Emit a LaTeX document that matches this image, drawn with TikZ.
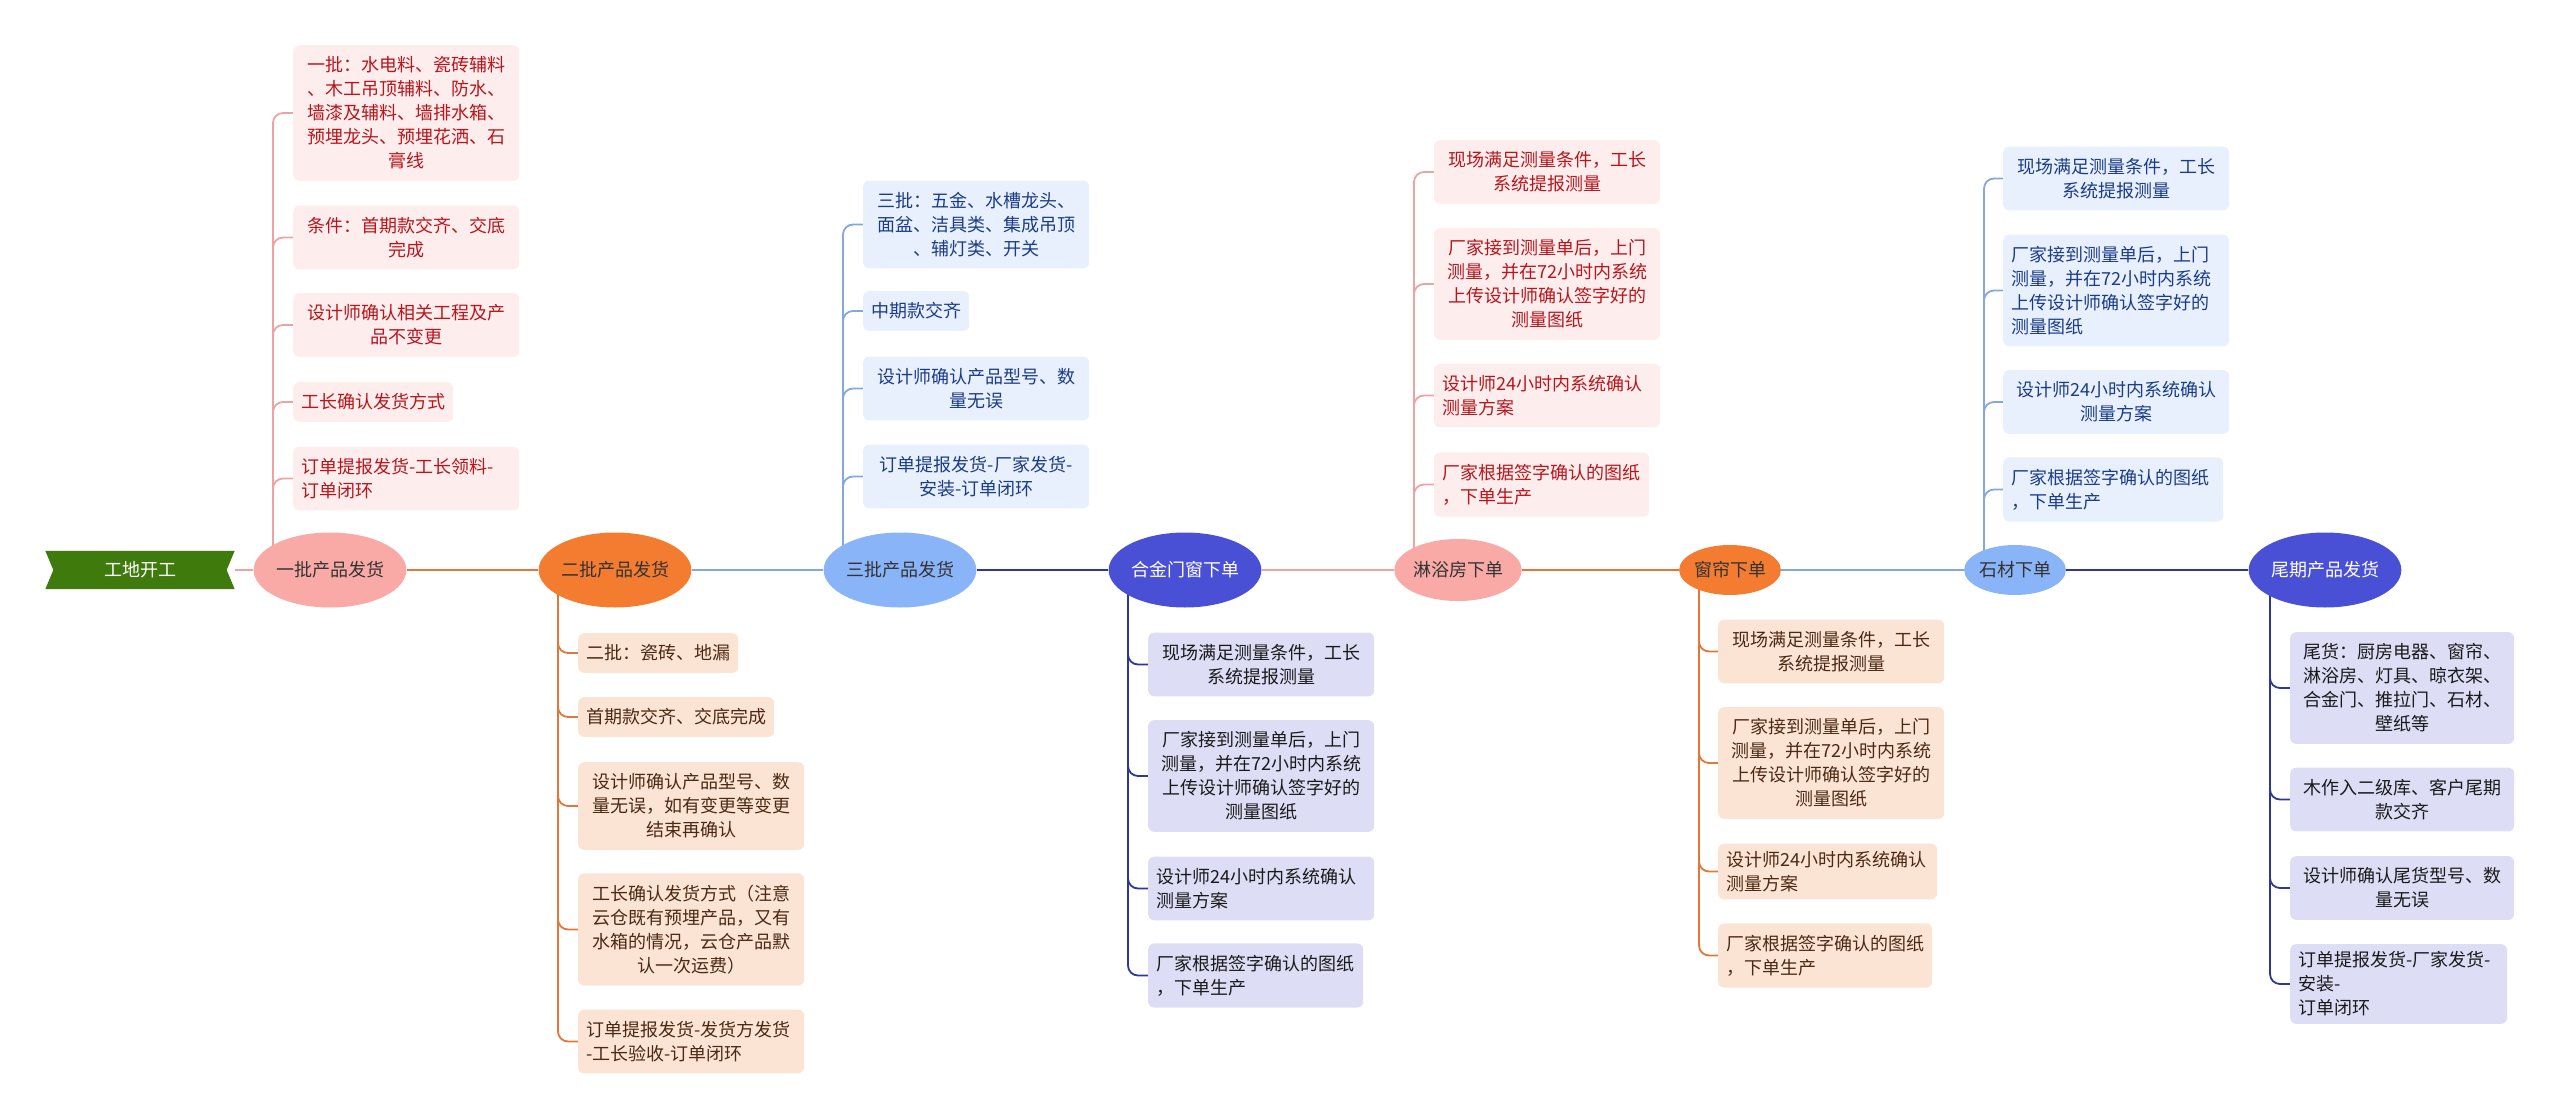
\documentclass[tikz,border=0pt]{standalone}
\usepackage{fontspec}
\setmainfont{Noto Sans CJK SC}
\usetikzlibrary{shapes.geometric,backgrounds}

\definecolor{pinkhub}{HTML}{F9AAA7}
\definecolor{pinkline}{HTML}{EDA3A1}
\definecolor{pinkleaf}{HTML}{FDEDED}
\definecolor{pinktext}{HTML}{B8161C}
\definecolor{orangehub}{HTML}{F47C31}
\definecolor{orangeline}{HTML}{E2773A}
\definecolor{orangeleaf}{HTML}{FCE4D5}
\definecolor{orangetext}{HTML}{4A2A14}
\definecolor{bluehub}{HTML}{8AB4F8}
\definecolor{blueline}{HTML}{84A7DF}
\definecolor{blueleaf}{HTML}{E8F0FD}
\definecolor{bluetext}{HTML}{1B3C86}
\definecolor{navyhub}{HTML}{4A50D6}
\definecolor{navyline}{HTML}{2C3799}
\definecolor{navyleaf}{HTML}{DDDEF6}
\definecolor{navytext}{HTML}{1A1A1A}
\definecolor{startgreen}{HTML}{3E7A0C}

\begin{document}
\begin{tikzpicture}[x=1pt, y=-1pt,
  every node/.style={font=\fontsize{18pt}{24pt}\selectfont},
  hub/.style={ellipse, inner sep=0pt, text=black!80},
  bighub/.style={hub, minimum width=152pt, minimum height=75pt},
  midhub/.style={hub, minimum width=127pt, minimum height=62pt},
  smallhub/.style={hub, minimum width=101pt, minimum height=50pt},
  leaf/.style={rounded corners=6pt, inner xsep=8pt, inner ysep=11.5pt, anchor=west},
  pinkbox/.style={leaf, fill=pinkleaf, text=pinktext},
  orangebox/.style={leaf, fill=orangeleaf, text=orangetext},
  bluebox/.style={leaf, fill=blueleaf, text=bluetext},
  navybox/.style={leaf, fill=navyleaf, text=navytext},
  wide/.style={text width=210pt, align=center},
  wideleft/.style={text width=210pt, align=left},
  trunk/.style={line width=2.6pt},
  twig/.style={line width=1.8pt, rounded corners=10pt}]
\useasboundingbox (0,0) rectangle (2560,1118);

% main line
\node[text=white, minimum width=189pt, minimum height=38pt, inner sep=0pt] (start) at (140,570) {工地开工};
\node[bighub, fill=pinkhub] (n1) at (330,570) {一批产品发货};
\node[bighub, fill=orangehub] (n2) at (615,570) {二批产品发货};
\node[bighub, fill=bluehub] (n3) at (900,570) {三批产品发货};
\node[bighub, fill=navyhub, text=white] (n4) at (1185,570) {合金门窗下单};
\node[midhub, fill=pinkhub] (n5) at (1458,570) {淋浴房下单};
\node[smallhub, fill=orangehub] (n6) at (1730,570) {窗帘下单};
\node[smallhub, fill=bluehub] (n7) at (2015,570) {石材下单};
\node[bighub, fill=navyhub, text=white] (n8) at (2325,570) {尾期产品发货};

\draw[trunk, pinkline] (start) -- (n1);
\draw[trunk, orangeline] (n1) -- (n2);
\draw[trunk, blueline] (n2) -- (n3);
\draw[trunk, navyline] (n3) -- (n4);
\draw[trunk, pinkline] (n4) -- (n5);
\draw[trunk, orangeline] (n5) -- (n6);
\draw[trunk, blueline] (n6) -- (n7);
\draw[trunk, navyline] (n7) -- (n8);

% first batch
\node[pinkbox, wide] (a1) at (293,113) {一批：水电料、瓷砖辅料\\、木工吊顶辅料、防水、\\墙漆及辅料、墙排水箱、\\预埋龙头、预埋花洒、石\\膏线};
\node[pinkbox, wide] (a2) at (293,237.5) {条件：首期款交齐、交底\\完成};
\node[pinkbox, wide] (a3) at (293,325) {设计师确认相关工程及产\\品不变更};
\node[pinkbox, text width=144pt, align=center] (a4) at (293,402) {工长确认发货方式};
\node[pinkbox, wideleft] (a5) at (293,478.5) {订单提报发货-工长领料-\\订单闭环};

% second batch
\node[orangebox, text width=144pt, align=center] (b1) at (578,653) {二批：瓷砖、地漏};
\node[orangebox, text width=180pt, align=center] (b2) at (578,717) {首期款交齐、交底完成};
\node[orangebox, wide] (b3) at (578,806) {设计师确认产品型号、数\\量无误，如有变更等变更\\结束再确认};
\node[orangebox, wide] (b4) at (578,929.5) {工长确认发货方式（注意\\云仓既有预埋产品，又有\\水箱的情况，云仓产品默\\认一次运费）};
\node[orangebox, wideleft] (b5) at (578,1041.5) {订单提报发货-发货方发货\\-工长验收-订单闭环};

% third batch
\node[bluebox, wide] (c1) at (863,224.5) {三批：五金、水槽龙头、\\面盆、洁具类、集成吊顶\\、辅灯类、开关};
\node[bluebox, text width=90pt, align=center] (c2) at (863,311) {中期款交齐};
\node[bluebox, wide] (c3) at (863,388.5) {设计师确认产品型号、数\\量无误};
\node[bluebox, wide] (c4) at (863,476.5) {订单提报发货-厂家发货-\\安装-订单闭环};

% alloy doors and windows
\node[navybox, wide] (d1) at (1148,664.5) {现场满足测量条件，工长\\系统提报测量};
\node[navybox, wide] (d2) at (1148,776) {厂家接到测量单后，上门\\测量，并在72小时内系统\\上传设计师确认签字好的\\测量图纸};
\node[navybox, wideleft] (d3) at (1148,888.5) {设计师24小时内系统确认\\测量方案};
\node[navybox, text width=199pt, align=left] (d4) at (1148,975.5) {厂家根据签字确认的图纸\\，下单生产};

% shower room
\node[pinkbox, wide] (e1) at (1434,172) {现场满足测量条件，工长\\系统提报测量};
\node[pinkbox, wide] (e2) at (1434,284) {厂家接到测量单后，上门\\测量，并在72小时内系统\\上传设计师确认签字好的\\测量图纸};
\node[pinkbox, wideleft] (e3) at (1434,395.5) {设计师24小时内系统确认\\测量方案};
\node[pinkbox, text width=199pt, align=left] (e4) at (1434,484.5) {厂家根据签字确认的图纸\\，下单生产};

% curtains
\node[orangebox, wide] (f1) at (1718,651.5) {现场满足测量条件，工长\\系统提报测量};
\node[orangebox, wide] (f2) at (1718,763) {厂家接到测量单后，上门\\测量，并在72小时内系统\\上传设计师确认签字好的\\测量图纸};
\node[orangebox, text width=203pt, align=left, inner ysep=7.5pt] (f3) at (1718,871.5) {设计师24小时内系统确认\\测量方案};
\node[orangebox, text width=198pt, align=left] (f4) at (1718,955.5) {厂家根据签字确认的图纸\\，下单生产};

% stone
\node[bluebox, wide] (g1) at (2003,178.5) {现场满足测量条件，工长\\系统提报测量};
\node[bluebox, wideleft] (g2) at (2003,290.5) {厂家接到测量单后，上门\\测量，并在72小时内系统\\上传设计师确认签字好的\\测量图纸};
\node[bluebox, wide] (g3) at (2003,402) {设计师24小时内系统确认\\测量方案};
\node[bluebox, text width=204pt, align=left] (g4) at (2003,489.5) {厂家根据签字确认的图纸\\，下单生产};

% final delivery
\node[navybox, text width=208pt, align=center] (h1) at (2290,688) {尾货：厨房电器、窗帘、\\淋浴房、灯具、晾衣架、\\合金门、推拉门、石材、\\壁纸等};
\node[navybox, text width=208pt, align=center] (h2) at (2290,799.5) {木作入二级库、客户尾期\\款交齐};
\node[navybox, text width=208pt, align=center] (h3) at (2290,888) {设计师确认尾货型号、数\\量无误};
\node[navybox, text width=201pt, align=left, inner ysep=7.5pt] (h4) at (2290,984) {订单提报发货-厂家发货-\\安装-\\订单闭环};

\begin{scope}[on background layer]
\fill[startgreen] (start.north west) -- (start.north east) -- ([xshift=-8pt]start.east)
  -- (start.south east) -- (start.south west) -- ([xshift=8pt]start.west) -- cycle;
\foreach \k in {a1,a2,a3,a4,a5}
  \draw[twig, pinkline] ([xshift=-57pt]n1.center) |- (\k.west);
\foreach \k in {b1,b2,b3,b4,b5}
  \draw[twig, orangeline] ([xshift=-57pt]n2.center) |- (\k.west);
\foreach \k in {c1,c2,c3,c4}
  \draw[twig, blueline] ([xshift=-57pt]n3.center) |- (\k.west);
\foreach \k in {d1,d2,d3,d4}
  \draw[twig, navyline] ([xshift=-57pt]n4.center) |- (\k.west);
\foreach \k in {e1,e2,e3,e4}
  \draw[twig, pinkline] ([xshift=-44pt]n5.center) |- (\k.west);
\foreach \k in {f1,f2,f3,f4}
  \draw[twig, orangeline] ([xshift=-31pt]n6.center) |- (\k.west);
\foreach \k in {g1,g2,g3,g4}
  \draw[twig, blueline] ([xshift=-31pt]n7.center) |- (\k.west);
\foreach \k in {h1,h2,h3,h4}
  \draw[twig, navyline] ([xshift=-55pt]n8.center) |- (\k.west);
\end{scope}
\end{tikzpicture}
\end{document}
